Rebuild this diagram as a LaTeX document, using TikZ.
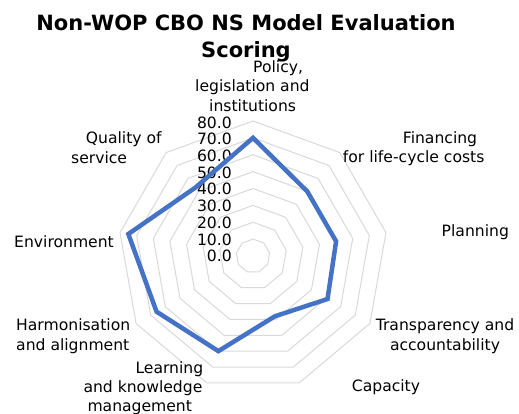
\documentclass[tikz,border=0pt]{standalone}
\usepackage{fontspec}
\setmainfont{DejaVu Sans}
\definecolor{gridgray}{HTML}{D9D9D9}
\definecolor{serieblue}{HTML}{4472C4}
\newcommand{\axlines}[1]{\begin{tabular}[t]{@{}l@{}}#1\end{tabular}}
\newcommand{\axcenter}[1]{\begin{tabular}[t]{@{}c@{}}#1\end{tabular}}
\begin{document}
\begin{tikzpicture}[x=1pt,y=-1pt,
  grid/.style={draw=gridgray, line width=1pt},
  series/.style={draw=serieblue, line width=4.5pt, line join=miter},
  axlabel/.style={font=\fontsize{15.6}{19.3}\selectfont, inner sep=0pt, text=black},
  ticklabel/.style={font=\fontsize{15.6}{19.3}\selectfont, inner sep=0pt, anchor=base east},
  titlestyle/.style={font=\fontsize{21}{26.5}\selectfont\bfseries, inner sep=0pt, anchor=base}]
\useasboundingbox (0,0) rectangle (519,414);
\coordinate (C) at (253,256);
% grid rings
\begin{scope}[shift={(C)}]
  \foreach \r in {1,...,8}{
    \draw[grid] (-90:{\r*16.875}) \foreach \k in {1,...,8}{ -- ({40*\k-90}:{\r*16.875}) } -- cycle;
  }
\end{scope}
% title
\node[titlestyle] (title) at (246,31) {\axcenter{Non-WOP CBO NS Model Evaluation\\Scoring}};
% tick labels
\foreach \v/\t in {0/0.0,1/10.0,2/20.0,3/30.0,4/40.0,5/50.0,6/60.0,7/70.0,8/80.0}{
  \node[ticklabel] (tick\v) at (232,{261.7-16.68*\v}) {\t};
}
% axis labels
\node[axlabel, anchor=base west] (policy) at (195,72.5) {\axlines{\hspace*{58pt}Policy,\\legislation and\\\hspace*{14pt}institutions}};
\node[axlabel, anchor=base west] (financing) at (342.7,143.5) {\axlines{\hspace*{60pt}Financing\\for life-cycle costs}};
\node[axlabel, anchor=base west] (planning) at (441.5,236.7) {Planning};
\node[axlabel, anchor=base] (transparency) at (445,330.7) {\axcenter{Transparency and\\accountability}};
\node[axlabel, anchor=base west] (capacity) at (351.7,391.7) {Capacity};
\node[axlabel, anchor=base west] (learning) at (83.3,373.3) {\axlines{\hspace*{52pt}Learning\\and knowledge\\\hspace*{4pt}management}};
\node[axlabel, anchor=base west] (harmonisation) at (16,330.7) {\axlines{Harmonisation\\and alignment}};
\node[axlabel, anchor=base west] (environment) at (14,247.3) {Environment};
\node[axlabel, anchor=base west] (quality) at (71,144) {\axlines{\hspace*{14.7pt}Quality of\\service}};
% data series
\begin{scope}[shift={(C)}]
  \coordinate (p0) at (-90:{70*1.6875});
  \coordinate (p1) at (-50:{50*1.6875});
  \coordinate (p2) at (-10:{50*1.6875});
  \coordinate (p3) at (30:{51*1.6875});
  \coordinate (p4) at (70:{38*1.6875});
  \coordinate (p5) at (110:{60*1.6875});
  \coordinate (p6) at (150:{66*1.6875});
  \coordinate (p7) at (190:{75*1.6875});
  \coordinate (p8) at (230:{53*1.6875});
\end{scope}
\draw[series] (p0) -- (p1) -- (p2) -- (p3) -- (p4) -- (p5) -- (p6) -- (p7) -- (p8) -- cycle;
\end{tikzpicture}
\end{document}
